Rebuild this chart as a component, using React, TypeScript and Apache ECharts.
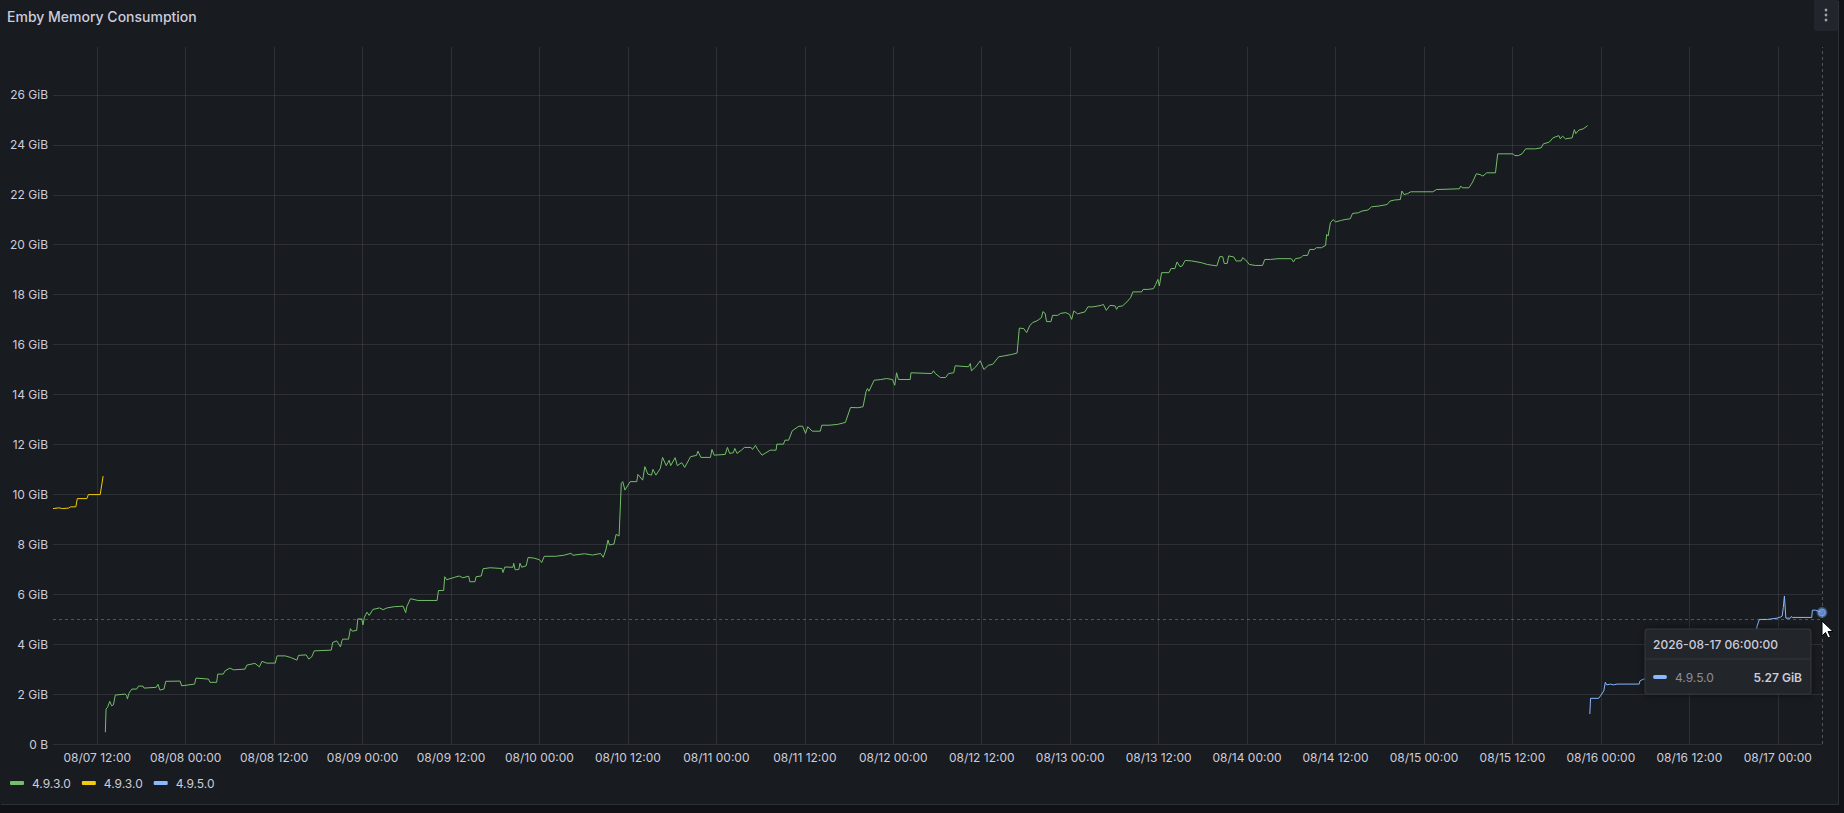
import React, { useEffect, useRef } from "react";
import * as echarts from "echarts";

// ---------- data ----------
const TITLE = "Emby Memory Consumption";
// time origin: 2026-08-07 00:00 (local); x values below are hours since then
const START_YEAR = 2026;
const START_MONTH = 8;
const START_DAY = 7;
const RANGE_START_H = 6; // 08/07 06:00
const RANGE_END_H = 246; // 08/17 06:00
const TICK_STEP_H = 6;
const LABEL_STEP_H = 12;

const Y_MIN = 0;
const Y_MAX = 27.92;
const Y_STEP = 2;

const seriesNames = ["4.9.3.0", "4.9.3.0", "4.9.5.0"];

// [hours since 08/07 00:00, GiB]
const yellowPoints: number[][] = [
  [6.0, 9.43], [6.8, 9.46], [7.3, 9.43], [8.1, 9.45], [8.4, 9.5], [9.1, 9.5],
  [9.3, 9.83], [10.6, 9.83], [10.8, 9.99], [12.4, 9.99], [12.8, 10.73],
];

const greenPoints: number[][] = [
  [13.1, 0.47], [13.2, 1.4], [13.4, 1.47], [13.7, 1.71], [13.95, 1.53], [14.2, 1.57],
  [14.45, 1.96], [15.8, 2.0], [16.0, 1.93], [16.1, 1.8], [16.3, 2.03], [16.7, 2.2],
  [17.35, 2.2], [17.6, 2.32], [18.2, 2.32], [18.35, 2.24], [20.0, 2.27], [20.25, 2.39],
  [20.5, 2.16], [21.05, 2.2], [21.3, 2.51], [23.25, 2.52], [23.45, 2.33], [25.2, 2.4],
  [25.4, 2.64], [27.1, 2.6], [27.3, 2.47], [28.2, 2.47], [28.35, 2.8], [29.1, 2.8],
  [29.35, 2.93], [30.0, 3.04], [30.5, 2.97], [32.05, 3.0], [32.3, 3.16], [33.4, 3.23],
  [34.0, 3.09], [34.35, 3.31], [35.0, 3.24], [36.15, 3.24], [36.4, 3.53], [37.5, 3.53],
  [38.2, 3.47], [39.1, 3.36], [39.3, 3.55], [40.35, 3.57], [40.7, 3.4], [41.1, 3.49],
  [41.45, 3.73], [43.75, 3.76], [43.95, 4.07], [44.5, 4.13], [45.0, 3.89], [45.2, 4.13],
  [45.3, 4.2], [46.1, 4.2], [46.35, 4.62], [46.6, 4.52], [47.2, 4.55], [47.35, 5.01],
  [47.9, 5.01], [48.05, 4.77], [48.25, 5.08], [48.6, 5.28], [48.9, 5.15], [49.4, 5.39],
  [50.3, 5.45], [50.8, 5.38], [51.3, 5.45], [52.3, 5.5], [53.5, 5.52], [53.85, 5.26],
  [54.0, 5.5], [54.5, 5.82], [55.5, 5.75], [58.1, 5.75], [58.3, 6.15], [59.0, 6.15],
  [59.15, 6.7], [59.4, 6.58], [60.5, 6.68], [61.1, 6.73], [61.6, 6.66], [62.4, 6.72],
  [62.55, 6.5], [63.25, 6.5], [63.4, 6.7], [64.1, 6.73], [64.35, 7.02], [65.3, 7.06],
  [66.9, 7.03], [67.05, 6.87], [67.3, 7.09], [68.4, 7.08], [68.5, 7.24], [68.7, 6.98],
  [69.2, 6.99], [69.35, 7.24], [69.6, 7.08], [70.2, 7.14], [70.45, 7.47], [71.2, 7.45],
  [72.0, 7.38], [72.3, 7.27], [72.65, 7.52], [74.2, 7.52], [75.3, 7.56], [76.3, 7.64],
  [76.5, 7.56], [78.1, 7.62], [79.2, 7.57], [80.3, 7.63], [80.65, 7.48], [81.0, 7.77],
  [81.3, 8.17], [81.5, 7.97], [82.1, 8.01], [82.4, 8.4], [82.8, 8.33], [83.1, 10.44],
  [83.3, 10.51], [83.6, 10.17], [84.3, 10.51], [85.2, 10.51], [85.35, 10.8], [86.0, 10.57],
  [86.3, 11.11], [86.7, 10.81], [87.2, 10.77], [87.4, 11.0], [87.8, 10.77], [88.4, 11.04],
  [88.7, 11.48], [89.2, 11.15], [89.6, 11.37], [89.8, 11.15], [90.4, 11.47], [90.7, 11.15],
  [91.3, 11.27], [91.7, 11.08], [92.5, 11.51], [93.3, 11.56], [93.5, 11.73], [93.9, 11.48],
  [95.2, 11.48], [95.4, 11.8], [95.7, 11.57], [97.2, 11.6], [97.5, 11.88], [97.8, 11.64],
  [98.3, 11.67], [98.5, 11.84], [98.8, 11.64], [99.4, 11.77], [99.8, 11.88], [100.7, 11.88],
  [100.9, 11.8], [101.3, 11.96], [101.6, 11.8], [102.2, 11.57], [103.3, 11.77], [104.1, 11.77],
  [104.2, 12.01], [105.1, 12.01], [105.3, 12.17], [105.8, 12.17], [106.3, 12.55], [107.2, 12.73],
  [107.7, 12.73], [108.1, 12.44], [108.4, 12.71], [109.0, 12.53], [110.1, 12.53], [110.3, 12.77],
  [111.3, 12.77], [112.4, 12.8], [113.5, 12.88], [114.2, 13.48], [115.2, 13.47], [115.9, 13.51],
  [116.3, 14.11], [116.5, 14.24], [116.7, 14.13], [117.4, 14.57], [118.3, 14.6], [119.1, 14.64],
  [119.9, 14.6], [120.2, 14.37], [120.45, 14.87], [120.7, 14.6], [122.3, 14.6], [122.4, 14.87],
  [125.2, 14.84], [125.45, 14.95], [125.7, 14.84], [126.4, 14.68], [127.1, 14.68], [127.5, 14.84],
  [128.2, 14.87], [128.4, 15.15], [130.2, 15.11], [130.45, 15.24], [130.6, 14.95], [131.2, 15.11],
  [131.8, 15.35], [132.3, 15.0], [132.9, 15.17], [133.5, 15.21], [134.3, 15.51], [135.1, 15.55],
  [136.0, 15.6], [136.8, 15.66], [137.1, 16.66], [137.7, 16.64], [138.1, 16.48], [138.5, 16.75],
  [138.9, 16.88], [139.5, 16.95], [140.1, 17.08], [140.3, 17.32], [140.6, 17.25], [140.8, 16.92],
  [141.4, 16.92], [141.6, 17.17], [142.3, 17.17], [142.7, 17.25], [143.4, 17.28], [143.9, 17.21],
  [144.2, 17.01], [144.5, 17.35], [145.0, 17.23], [146.0, 17.31], [146.4, 17.51], [147.1, 17.51],
  [148.2, 17.57], [148.5, 17.61], [148.9, 17.37], [149.4, 17.57], [150.1, 17.55], [150.3, 17.41],
  [150.5, 17.52], [151.1, 17.55], [151.7, 17.71], [152.2, 17.88], [152.5, 18.11], [153.7, 18.11],
  [153.9, 18.21], [154.6, 18.21], [155.3, 18.24], [155.6, 18.41], [155.9, 18.61], [156.1, 18.35],
  [156.4, 18.88], [157.4, 18.88], [157.7, 19.05], [158.2, 19.04], [158.5, 19.31], [158.9, 19.12],
  [159.2, 19.15], [159.6, 19.37], [160.5, 19.35], [161.8, 19.28], [162.6, 19.21], [163.9, 19.15],
  [164.3, 19.52], [164.7, 19.52], [164.9, 19.25], [165.3, 19.25], [165.5, 19.55], [166.2, 19.51],
  [166.5, 19.35], [167.2, 19.35], [167.4, 19.48], [167.8, 19.39], [168.3, 19.21], [169.1, 19.17],
  [170.1, 19.17], [170.4, 19.41], [171.2, 19.41], [172.2, 19.44], [174.0, 19.44], [174.3, 19.31],
  [174.55, 19.44], [175.3, 19.48], [175.6, 19.57], [176.2, 19.57], [176.5, 19.81], [177.1, 19.81],
  [177.4, 19.88], [178.1, 19.88], [178.65, 19.97], [178.8, 20.41], [179.0, 20.35], [179.3, 20.88],
  [179.7, 21.01], [180.0, 20.91], [180.7, 20.97], [181.3, 21.01], [182.0, 21.04], [182.3, 21.25],
  [183.1, 21.28], [183.6, 21.35], [184.4, 21.39], [184.9, 21.52], [185.9, 21.55], [187.0, 21.61],
  [187.4, 21.75], [188.0, 21.79], [188.8, 21.81], [189.0, 22.15], [189.3, 22.01], [189.8, 22.05],
  [190.2, 22.12], [193.2, 22.12], [193.7, 22.21], [196.8, 22.24], [197.0, 22.35], [197.2, 22.28],
  [198.1, 22.28], [198.6, 22.51], [199.1, 22.84], [199.6, 22.81], [200.0, 22.75], [200.5, 22.88],
  [201.7, 22.88], [202.0, 23.64], [204.1, 23.64], [204.3, 23.57], [204.8, 23.57], [205.3, 23.64],
  [205.8, 23.84], [207.1, 23.84], [207.9, 23.88], [208.2, 24.04], [209.0, 24.11], [209.5, 24.28],
  [210.3, 24.37], [210.5, 24.24], [210.8, 24.35], [211.2, 24.24], [212.1, 24.28], [212.4, 24.61],
  [212.6, 24.45], [213.0, 24.59], [213.6, 24.64], [214.2, 24.77],
];

const bluePoints: number[][] = [
  [214.5, 1.2], [214.6, 1.83], [215.7, 1.83], [215.95, 1.93], [216.4, 2.13], [216.6, 2.47],
  [216.8, 2.37], [217.3, 2.4], [217.7, 2.37], [218.2, 2.4], [221.2, 2.4], [221.3, 2.53],
  [221.8, 2.6], [226.0, 2.65], [231.0, 2.7], [236.9, 2.75], [237.1, 4.53], [237.2, 4.73],
  [237.5, 4.99], [238.6, 4.99], [239.9, 5.04], [240.4, 5.09], [240.6, 5.13], [240.75, 5.47],
  [240.9, 5.93], [241.1, 5.04], [241.7, 5.04], [241.85, 5.11], [242.0, 5.07], [244.6, 5.07],
  [244.7, 5.36], [245.1, 5.36], [245.4, 5.33], [246.0, 5.27],
];

// hover state shown in the reference (mouse position on the y axis, GiB)
const cursorGiB = 5.0;

// ---------- styles ----------
const COLORS = ["#73bf69", "#f2cc0c", "#8ab8ff"];
const TEXT = "#ccccdc";
const GRID = "rgba(204,204,220,0.12)";
const FONT = "Inter, 'Noto Sans', sans-serif";

const HOUR = 3600000;
const START = new Date(START_YEAR, START_MONTH - 1, START_DAY, 0, 0, 0).getTime();
const toTs = (h: number) => START + h * HOUR;
const toSeries = (pts: number[][]) => pts.map(([h, v]) => [toTs(h), v]);

const pad = (n: number) => String(n).padStart(2, "0");
const fmtAxis = (v: number) => {
  const d = new Date(Math.round(v));
  if (d.getMinutes() !== 0 || d.getHours() % LABEL_STEP_H !== 0) return "";
  return `${pad(d.getMonth() + 1)}/${pad(d.getDate())} ${pad(d.getHours())}:00`;
};
const fmtFull = (v: number) => {
  const d = new Date(v);
  return `${d.getFullYear()}-${pad(d.getMonth() + 1)}-${pad(d.getDate())} ${pad(d.getHours())}:${pad(
    d.getMinutes()
  )}:${pad(d.getSeconds())}`;
};
const fmtGiB = (v: number) => (v === 0 ? "0 B" : `${v} GiB`);

export default function App() {
  const ref = useRef<HTMLDivElement>(null);

  useEffect(() => {
    document.body.style.margin = "0";
    document.body.style.background = "#111217";
    if (!ref.current) return;
    const chart = echarts.init(ref.current, undefined, { renderer: "svg" });

    const legendNames = seriesNames.map((n, i) => `${n}#${i}`);
    const lastBlue = bluePoints[bluePoints.length - 1];
    const hoverTs = toTs(lastBlue[0]);

    // tooltip box geometry (layout only)
    const tx = 1645, ty = 629, tw = 166, th = 65;

    chart.setOption({
      animation: false,
      backgroundColor: "transparent",
      textStyle: { fontFamily: FONT },
      title: {
        text: TITLE,
        left: 7,
        top: 9,
        padding: 0,
        textStyle: { color: TEXT, fontSize: 14, fontWeight: 500, fontFamily: FONT },
      },
      grid: { left: 53, top: 47, width: 1769, height: 697, containLabel: false },
      xAxis: {
        type: "value",
        min: toTs(RANGE_START_H),
        max: toTs(RANGE_END_H),
        interval: TICK_STEP_H * HOUR,
        axisLine: { show: false },
        axisTick: { show: false },
        axisLabel: { formatter: fmtAxis, color: TEXT, fontSize: 12, margin: 7, fontFamily: FONT },
        splitLine: { show: true, lineStyle: { color: ["rgba(0,0,0,0)", GRID], width: 1 } },
      },
      yAxis: {
        type: "value",
        min: Y_MIN,
        max: Y_MAX,
        interval: Y_STEP,
        axisLine: { show: false },
        axisTick: { show: false },
        axisLabel: {
          formatter: fmtGiB,
          color: TEXT,
          fontSize: 12,
          margin: 5,
          showMaxLabel: false,
          fontFamily: FONT,
        },
        splitLine: { show: true, showMaxLine: false, lineStyle: { color: GRID, width: 1 } },
      },
      legend: {
        data: legendNames,
        left: 10,
        top: 777,
        padding: 0,
        icon: "roundRect",
        itemWidth: 14,
        itemHeight: 4,
        itemGap: 11,
        selectedMode: false,
        formatter: (name: string) => name.split("#")[0],
        textStyle: { color: TEXT, fontSize: 12, padding: [0, 0, 0, 3], fontFamily: FONT },
      },
      series: [
        {
          name: legendNames[0],
          type: "line",
          data: toSeries(greenPoints),
          showSymbol: false,
          lineStyle: { width: 1, color: COLORS[0] },
          itemStyle: { color: COLORS[0] },
          silent: true,
        },
        {
          name: legendNames[1],
          type: "line",
          data: toSeries(yellowPoints),
          showSymbol: false,
          lineStyle: { width: 1, color: COLORS[1] },
          itemStyle: { color: COLORS[1] },
          silent: true,
        },
        {
          name: legendNames[2],
          type: "line",
          data: toSeries(bluePoints),
          showSymbol: false,
          lineStyle: { width: 1, color: COLORS[2] },
          itemStyle: { color: COLORS[2] },
          silent: true,
        },
        {
          name: "hover",
          type: "scatter",
          data: [[hoverTs, lastBlue[1]]],
          symbolSize: 8,
          itemStyle: { color: "#6e9fee", borderColor: "rgba(138,184,255,0.45)", borderWidth: 3 },
          silent: true,
          z: 5,
          markLine: {
            silent: true,
            symbol: ["none", "none"],
            label: { show: false },
            lineStyle: { color: "rgba(204,204,220,0.32)", type: [3, 3], width: 1 },
            data: [{ xAxis: hoverTs }, { yAxis: cursorGiB }],
          },
        },
      ],
      graphic: [
        // panel menu button
        {
          type: "rect",
          shape: { x: 1814, y: 0, width: 24, height: 31, r: [0, 0, 2, 2] },
          style: { fill: "#22252b" },
          z: 50,
        },
        { type: "circle", shape: { cx: 1826, cy: 10, r: 1.4 }, style: { fill: "#9fa1a8" }, z: 51 },
        { type: "circle", shape: { cx: 1826, cy: 15, r: 1.4 }, style: { fill: "#9fa1a8" }, z: 51 },
        { type: "circle", shape: { cx: 1826, cy: 20, r: 1.4 }, style: { fill: "#9fa1a8" }, z: 51 },
        // tooltip
        {
          type: "group",
          z: 100,
          children: [
            {
              type: "rect",
              shape: { x: tx, y: ty, width: tw, height: th, r: 2 },
              style: {
                fill: "#22252b",
                stroke: "#34373d",
                lineWidth: 1,
                shadowBlur: 8,
                shadowColor: "rgba(0,0,0,0.4)",
              },
              z: 100,
            },
            {
              type: "text",
              x: tx + 8,
              y: ty + 15,
              style: {
                text: fmtFull(hoverTs),
                fill: TEXT,
                font: `500 12px ${FONT}`,
                verticalAlign: "middle",
              },
              z: 101,
            },
            {
              type: "line",
              shape: { x1: tx, y1: ty + 30, x2: tx + tw, y2: ty + 30 },
              style: { stroke: "#34373d", lineWidth: 1 },
              z: 101,
            },
            {
              type: "rect",
              shape: { x: tx + 8, y: ty + 46, width: 14, height: 4, r: 2 },
              style: { fill: COLORS[2] },
              z: 101,
            },
            {
              type: "text",
              x: tx + 30,
              y: ty + 48,
              style: {
                text: seriesNames[2],
                fill: "#8e8e99",
                font: `400 12px ${FONT}`,
                verticalAlign: "middle",
              },
              z: 101,
            },
            {
              type: "text",
              x: tx + tw - 9,
              y: ty + 48,
              style: {
                text: `${lastBlue[1].toFixed(2)} GiB`,
                fill: TEXT,
                font: `600 12px ${FONT}`,
                align: "right",
                verticalAlign: "middle",
              },
              z: 101,
            },
          ],
        },
        // mouse cursor
        {
          type: "polygon",
          x: 1822,
          y: 621,
          shape: {
            points: [
              [0, 0], [0, 15], [3.5, 11.5], [6, 17], [8.5, 16], [6, 10.5], [11, 10.5],
            ],
          },
          style: { fill: "#ffffff", stroke: "#000000", lineWidth: 1 },
          z: 120,
        },
      ],
    });

    return () => chart.dispose();
  }, []);

  return (
    <div style={{ width: 1844, height: 813, background: "#111217", position: "relative" }}>
      <div
        ref={ref}
        style={{
          position: "absolute",
          left: 0,
          top: 0,
          width: 1838,
          height: 804,
          background: "#181b1f",
          boxShadow: "1px 1px 0 #2d3035",
        }}
      />
    </div>
  );
}
